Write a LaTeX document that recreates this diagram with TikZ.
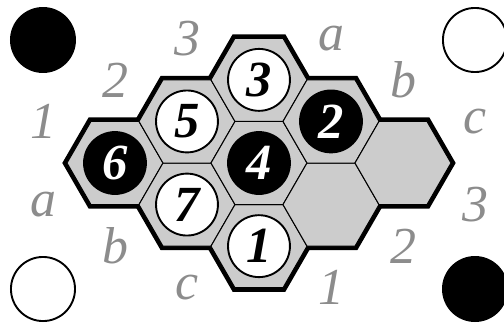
\documentclass[tikz,border=0pt]{standalone}
\usepackage{fontspec}
\setmainfont{Liberation Serif}
\usetikzlibrary{calc}
\definecolor{cellgray}{RGB}{204,204,204}
\definecolor{markgray}{RGB}{140,140,140}

\begin{document}
\begin{tikzpicture}[scale=1,
  hexrim/.style={draw=black,line width=6.4pt},
  hexcell/.style={fill=cellgray,draw=black,line width=.8pt},
  stone/.style={circle,draw=black,line width=1.5pt,minimum size=1.72cm,inner sep=0pt,
    font=\fontsize{40}{40}\selectfont\bfseries\itshape},
  blackstone/.style={stone,fill=black,text=white},
  whitestone/.style={stone,fill=white},
  cornerstone/.style={circle,draw=black,line width=1.5pt,minimum size=1.78cm,inner sep=0pt},
  edgemark/.style={text=markgray,font=\fontsize{41}{41}\selectfont\itshape}]
\useasboundingbox (0,0) rectangle (14,9);
% cell centres: i runs 1-2-3, j runs a-b-c
\foreach \i in {0,1,2} \foreach \j in {0,1,2}
  \coordinate (c\i\j) at ({3.194+2*(\i+\j)},{4.472+1.1547*(\i-\j)});
% thick rim first, the cells cover its inner half
\foreach \i in {0,1,2} \foreach \j in {0,1,2}
  \draw[hexrim,shift={(c\i\j)}] (0:4/3)--(60:4/3)--(120:4/3)--(180:4/3)--(240:4/3)--(300:4/3)--cycle;
\foreach \i in {0,1,2} \foreach \j in {0,1,2}
  \draw[hexcell,shift={(c\i\j)}] (0:4/3)--(60:4/3)--(120:4/3)--(180:4/3)--(240:4/3)--(300:4/3)--cycle;
% stones
\node[blackstone] (s6) at (c00) {6};
\node[whitestone] (s5) at (c10) {5};
\node[whitestone] (s3) at (c20) {3};
\node[whitestone] (s7) at (c01) {7};
\node[blackstone] (s4) at (c11) {4};
\node[blackstone] (s2) at (c21) {2};
\node[whitestone] (s1) at (c02) {1};
% edge marks
\foreach \i/\n in {0/1,1/2,2/3} {
  \node[edgemark] (nw\n) at ($(c\i0)+(-2,1.1547)$) {\n};
  \node[edgemark] (se\n) at ($(c\i2)+(2,-1.1547)$) {\n};
}
\foreach \j/\l in {0/a,1/b,2/c} {
  \node[edgemark] (ne\l) at ($(c2\j)+(2,1.1547)$) {\l};
  \node[edgemark] (sw\l) at ($(c0\j)+(-2,-1.1547)$) {\l};
}
% corner stones
\node[cornerstone,fill=black] (tl) at (1.194,7.889) {};
\node[cornerstone,fill=white] (tr) at (13.194,7.889) {};
\node[cornerstone,fill=white] (bl) at (1.194,0.972) {};
\node[cornerstone,fill=black] (br) at (13.194,0.972) {};
\end{tikzpicture}
\end{document}
